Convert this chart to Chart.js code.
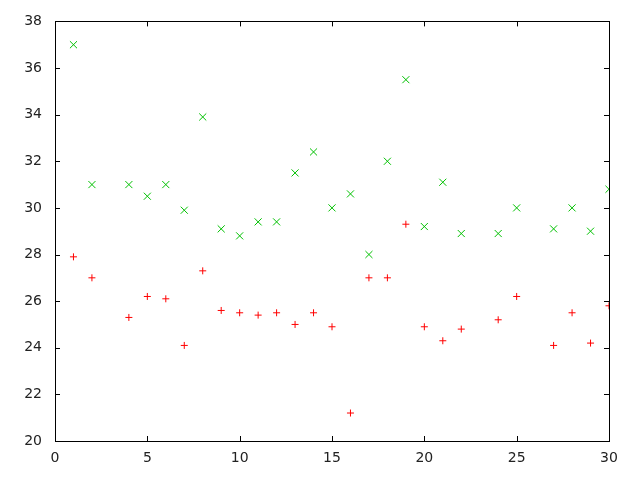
<!DOCTYPE html>
<html>
<head>
<meta charset="utf-8">
<script src="https://cdn.jsdelivr.net/npm/chart.js@4/dist/chart.umd.min.js"></script>
<style>
	body { margin: 0; background: #fff; }
	canvas { display: block; }
</style>
</head>
<body>
<canvas id="scatter" width="640" height="480"></canvas>
<script>
// x positions (no samples at 3, 23, 26)
const xs = [1, 2, 4, 5, 6, 7, 8, 9, 10, 11, 12, 13, 14, 15, 16, 17, 18, 19, 20, 21, 22, 24, 25, 27, 28, 29, 30];
// red '+' series
const redVals = [27.9, 27.0, 25.3, 26.2, 26.1, 24.1, 27.3, 25.6, 25.5, 25.4, 25.5, 25.0, 25.5, 24.9, 21.2, 27.0, 27.0, 29.3, 24.9, 24.3, 24.8, 25.2, 26.2, 24.1, 25.5, 24.2, 25.8];
// green 'x' series
const greenVals = [37.0, 31.0, 31.0, 30.5, 31.0, 29.9, 33.9, 29.1, 28.8, 29.4, 29.4, 31.5, 32.4, 30.0, 30.6, 28.0, 32.0, 35.5, 29.2, 31.1, 28.9, 28.9, 30.0, 29.1, 30.0, 29.0, 30.8];

const xMin = 0, xMax = 30, xStep = 5;
const yMin = 20, yMax = 38, yStep = 2;

const toPoints = (vals) => xs.map((x, i) => ({ x: x, y: vals[i] }));

// gnuplot style box with inward ticks on all four sides
const boxTicks = {
	id: 'boxTicks',
	afterDraw(chart) {
		const ctx = chart.ctx;
		const a = chart.chartArea;
		const sx = chart.scales.x, sy = chart.scales.y;
		const len = 5;
		ctx.save();
		ctx.strokeStyle = '#000';
		ctx.lineWidth = 1;
		ctx.beginPath();
		sx.ticks.forEach(t => {
			const px = Math.round(sx.getPixelForValue(t.value)) + 0.5;
			ctx.moveTo(px, a.bottom); ctx.lineTo(px, a.bottom - len);
			ctx.moveTo(px, a.top); ctx.lineTo(px, a.top + len);
		});
		sy.ticks.forEach(t => {
			const py = Math.round(sy.getPixelForValue(t.value)) + 0.5;
			ctx.moveTo(a.left, py); ctx.lineTo(a.left + len, py);
			ctx.moveTo(a.right, py); ctx.lineTo(a.right - len, py);
		});
		ctx.stroke();
		ctx.strokeRect(Math.round(a.left) + 0.5, Math.round(a.top) + 0.5, Math.round(a.right - a.left), Math.round(a.bottom - a.top));
		ctx.restore();
	}
};

const ctx = document.getElementById('scatter').getContext('2d');
const myChart = new Chart(ctx, {
	type: 'scatter',
	data: {
		datasets: [{
			data: toPoints(redVals),
			pointStyle: 'cross',
			radius: 3.5,
			borderColor: '#ff0000',
			borderWidth: 1
		}, {
			data: toPoints(greenVals),
			pointStyle: 'crossRot',
			radius: 5,
			borderColor: '#00c000',
			borderWidth: 1
		}]
	},
	options: {
		responsive: false,
		animation: false,
		layout: { padding: { top: 20, right: 31, left: 0, bottom: 0 } },
		plugins: {
			legend: { display: false },
			tooltip: { enabled: false }
		},
		scales: {
			x: {
				type: 'linear',
				min: xMin, max: xMax,
				grid: { display: false, drawTicks: false },
				border: { display: false },
				ticks: { stepSize: xStep, padding: 9, color: '#222', font: { family: 'DejaVu Sans', size: 14 } },
				afterFit: (s) => { s.height = 39; }
			},
			y: {
				min: yMin, max: yMax,
				grid: { display: false, drawTicks: false },
				border: { display: false },
				ticks: { stepSize: yStep, padding: 13, color: '#222', font: { family: 'DejaVu Sans', size: 14 } },
				afterFit: (s) => { s.width = 55; }
			}
		}
	},
	plugins: [boxTicks]
});
</script>
</body>
</html>
